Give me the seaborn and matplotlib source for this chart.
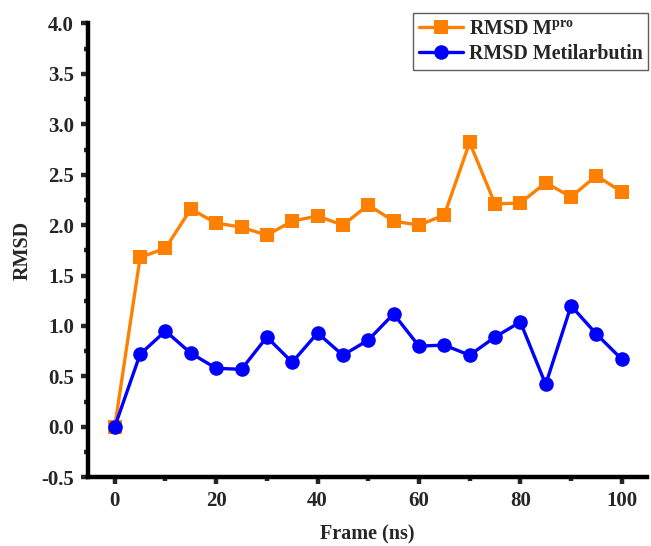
import numpy as np
import pandas as pd
from matplotlib import pyplot as plt
from matplotlib.ticker import MultipleLocator
import seaborn as sns

# RMSD over the simulation time
frames = [0, 5, 10, 15, 20, 25, 30, 35, 40, 45, 50,
          55, 60, 65, 70, 75, 80, 85, 90, 95, 100]
rmsd_mpro = [0.0, 1.68, 1.77, 2.16, 2.02, 1.98, 1.90, 2.04, 2.09, 2.00, 2.20,
             2.04, 2.00, 2.10, 2.82, 2.21, 2.22, 2.42, 2.28, 2.49, 2.33]
rmsd_metil = [0.0, 0.72, 0.95, 0.73, 0.58, 0.57, 0.89, 0.64, 0.93, 0.71, 0.86,
              1.12, 0.80, 0.81, 0.71, 0.89, 1.04, 0.42, 1.20, 0.92, 0.67]
labels = ['RMSD M$^{pro}$', 'RMSD Metilarbutin']

sns.set_style('ticks')
plt.rcParams['font.family'] = ['Liberation Serif', 'DejaVu Serif']
plt.rcParams['font.weight'] = 'bold'
plt.rcParams['axes.unicode_minus'] = False
plt.rcParams['mathtext.fontset'] = 'custom'
plt.rcParams['mathtext.rm'] = 'Liberation Serif:bold'
plt.rcParams['mathtext.it'] = 'Liberation Serif:bold'
plt.rcParams['mathtext.bf'] = 'Liberation Serif:bold'
plt.rcParams['mathtext.default'] = 'bf'

df = pd.DataFrame({'frame': frames, 'mpro': rmsd_mpro, 'metil': rmsd_metil})

fig = plt.figure(figsize=(6.51, 5.46), dpi=100)
ax = fig.add_axes([0.135, 0.126, 0.859, 0.831])

sns.lineplot(data=df, x='frame', y='mpro', ax=ax, color='#FF8000', marker='s',
             markersize=9.5, markeredgewidth=0, linewidth=2.4, label=labels[0])
sns.lineplot(data=df, x='frame', y='metil', ax=ax, color='#0000FF', marker='o',
             markersize=10.5, markeredgewidth=0, linewidth=2.4, label=labels[1])

ax.set_xlim(-5.3, 105)
ax.set_ylim(-0.5, 4.0)
ax.xaxis.set_major_locator(MultipleLocator(20))
ax.xaxis.set_minor_locator(MultipleLocator(10))
ax.yaxis.set_major_locator(MultipleLocator(0.5))
ax.yaxis.set_minor_locator(MultipleLocator(0.25))

for side in ['top', 'right']:
    ax.spines[side].set_visible(False)
for side in ['left', 'bottom']:
    ax.spines[side].set_linewidth(3.2)
    ax.spines[side].set_color('black')

ax.tick_params(which='major', direction='out', length=5, width=3.2, labelsize=15, pad=5)
ax.tick_params(which='minor', direction='out', length=3, width=3.2)
for lab in ax.get_xticklabels() + ax.get_yticklabels():
    lab.set_fontweight('bold')

ax.set_xlabel('Frame (ns)', fontsize=14.5, fontweight='bold', labelpad=10)
ax.set_ylabel('RMSD', fontsize=14.5, fontweight='bold', labelpad=6)

leg = ax.legend(loc='upper left', bbox_to_anchor=(413 / 651, 1 - 13 / 546),
                bbox_transform=fig.transFigure, fontsize=14.4, frameon=True,
                fancybox=False, borderpad=0.28, handlelength=2.2,
                handletextpad=0.3, labelspacing=0.28, borderaxespad=0)
leg.get_frame().set_edgecolor('#333333')
leg.get_frame().set_linewidth(1.0)
for t in leg.get_texts():
    t.set_fontweight('bold')

plt.savefig('out.png', dpi=100)
